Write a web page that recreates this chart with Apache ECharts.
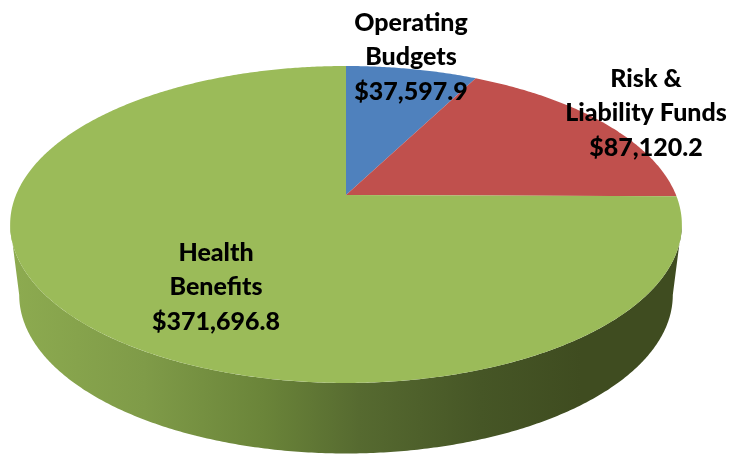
<!DOCTYPE html>
<html><head><meta charset="utf-8">
<style>html,body{margin:0;padding:0;background:#fff}#c{width:732px;height:455px}</style>
<script src="https://cdn.jsdelivr.net/npm/echarts@6/dist/echarts.min.js"></script>
</head><body><div id="c"></div>
<script>
const categories = ["Operating\nBudgets", "Risk &\nLiability Funds", "Health\nBenefits"];
const values = [37597.9, 87120.2, 371696.8];
const colors = ["#4f81bd", "#c0504d", "#9bbb59"];
const labelAnchors = [[411, 57], [646, 113], [216, 287]];

// Perspective view of the disc
const CX = 346, CY = 195, A = 330, B = 153, K = 0.186;
const DEPTH = 70.5, BOTTOM_SCALE = 0.973;
const total = values.reduce((a, b) => a + b, 0);
const angles = [];
values.reduce((acc, v) => { angles.push([acc / total * 360, (acc + v) / total * 360]); return acc + v; }, 0);

function project(deg, depth) {
  const t = deg * Math.PI / 180, x = Math.sin(t), y = Math.cos(t), d = 1 + K * y;
  const s = depth ? BOTTOM_SCALE : 1;
  return [CX + s * A * x / d, CY - B * y / d + (depth || 0)];
}
function rim(from, to, depth) {
  const pts = [], n = Math.max(2, Math.ceil(Math.abs(to - from) * 2));
  for (let i = 0; i <= n; i++) pts.push(project(from + (to - from) * i / n, depth));
  return pts;
}
const WIDE = Math.acos(-K) * 180 / Math.PI;
const sideFill = { type: 'linear', x: 0, y: 0, x2: 1, y2: 0, colorStops: [
  { offset: 0, color: '#8dab50' }, { offset: 0.2, color: '#7f9b48' }, { offset: 0.38, color: '#6a8439' },
  { offset: 0.52, color: '#566a30' }, { offset: 0.7, color: '#465626' }, { offset: 0.85, color: '#3f4c20' }, { offset: 1, color: '#3f4c20' } ] };

const data = values.map((v, i) => ({ name: categories[i], value: v }));
const base = { type: 'custom', coordinateSystem: 'none', silent: true, animation: false, data };

const option = {
  backgroundColor: '#fff',
  animation: false,
  series: [
    Object.assign({}, base, { renderItem(p) {
      const [a, b] = angles[p.dataIndex];
      const from = Math.max(a, WIDE), to = Math.min(b, 360 - WIDE);
      if (to <= from) return { type: 'group', children: [] };
      const pts = rim(from, to, 0).concat(rim(to, from, DEPTH));
      return { type: 'polygon', shape: { points: pts }, style: { fill: sideFill } };
    } }),
    Object.assign({}, base, { renderItem(p) {
      const [a, b] = angles[p.dataIndex];
      const pts = [[CX, CY]].concat(rim(a, b, 0));
      return { type: 'polygon', shape: { points: pts }, style: { fill: colors[p.dataIndex] } };
    } }),
    Object.assign({}, base, { renderItem(p) {
      const i = p.dataIndex;
      const money = '$' + values[i].toLocaleString('en-US', { minimumFractionDigits: 1, maximumFractionDigits: 1 });
      return { type: 'text', x: labelAnchors[i][0], y: labelAnchors[i][1], style: {
        text: categories[i] + '\n' + money, fill: '#000', font: '900 25px Lato, "Open Sans", sans-serif',
        lineHeight: 34.5, align: 'center', verticalAlign: 'middle' } };
    } })
  ]
};
const chart = echarts.init(document.getElementById('c'), null, { renderer: 'canvas' });
chart.setOption(option);
</script></body></html>
